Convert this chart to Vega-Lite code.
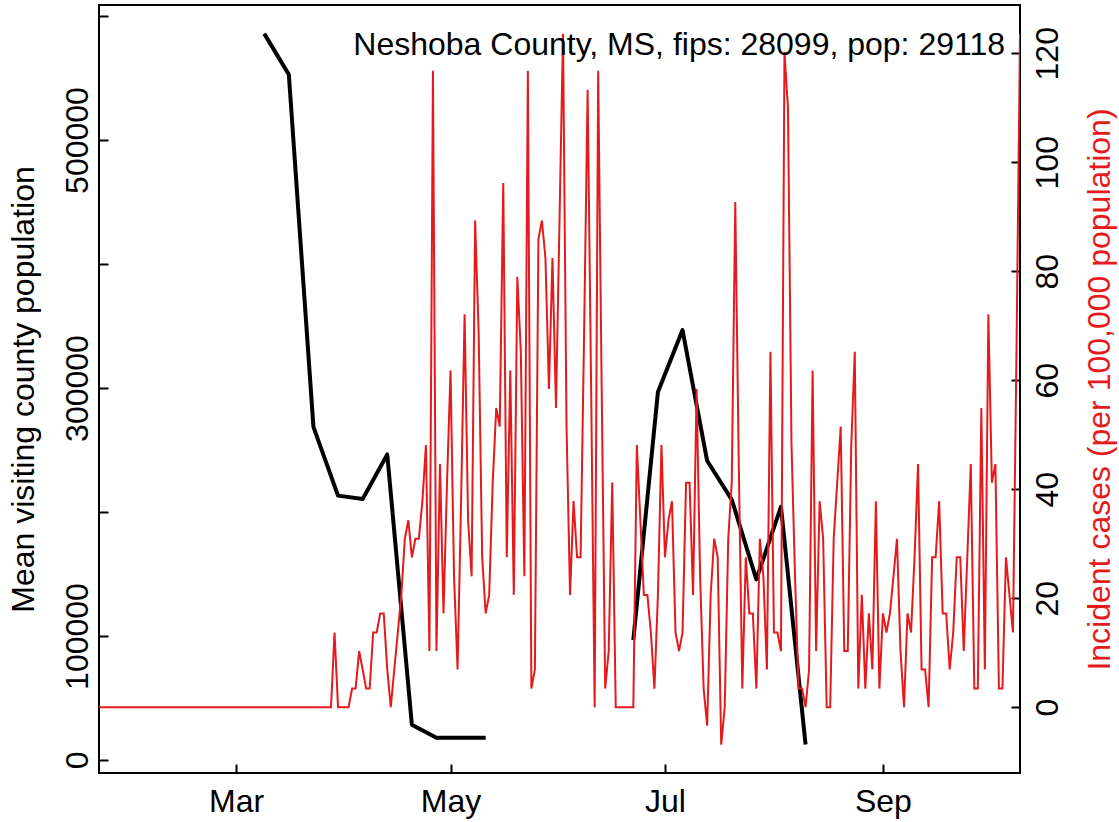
{
  "$schema": "https://vega.github.io/schema/vega-lite/v6.json",
  "width": 921,
  "height": 768,
  "autosize": {"type": "none"},
  "padding": {"left": 99, "top": 5, "right": 99, "bottom": 49},
  "background": "white",
  "config": {
    "font": "Liberation Sans",
    "view": {"stroke": "black", "strokeWidth": 2},
    "axis": {
      "domain": false, "grid": false,
      "labelFont": "Liberation Sans", "labelFontSize": 32, "labelColor": "black",
      "tickColor": "black", "tickWidth": 2, "tickSize": -9,
      "titleFont": "Liberation Sans", "titleFontSize": 32, "titleFontWeight": "normal",
      "labelBound": false, "labelOverlap": false, "labelFlush": false
    }
  },
  "title": {
    "text": "Neshoba County, MS, fips: 28099, pop: 29118",
    "anchor": "end", "frame": "group", "orient": "top", "offset": 0,
    "font": "Liberation Sans", "fontSize": 32, "fontWeight": "normal", "color": "black",
    "baseline": "alphabetic", "dx": -15, "dy": 82
  },
  "datasets": {
    "mobility": [
      {"date": "2020-03-09", "pop": 585800, "seg": 1},
      {"date": "2020-03-16", "pop": 552900, "seg": 1},
      {"date": "2020-03-23", "pop": 268600, "seg": 1},
      {"date": "2020-03-30", "pop": 213200, "seg": 1},
      {"date": "2020-04-06", "pop": 210500, "seg": 1},
      {"date": "2020-04-13", "pop": 246400, "seg": 1},
      {"date": "2020-04-20", "pop": 28500, "seg": 1},
      {"date": "2020-04-27", "pop": 18000, "seg": 1},
      {"date": "2020-05-04", "pop": 18000, "seg": 1},
      {"date": "2020-05-11", "pop": 18000, "seg": 1},
      {"date": "2020-06-22", "pop": 96800, "seg": 2},
      {"date": "2020-06-29", "pop": 296800, "seg": 2},
      {"date": "2020-07-06", "pop": 346700, "seg": 2},
      {"date": "2020-07-13", "pop": 241300, "seg": 2},
      {"date": "2020-07-20", "pop": 210000, "seg": 2},
      {"date": "2020-07-27", "pop": 145600, "seg": 2},
      {"date": "2020-08-03", "pop": 204200, "seg": 2},
      {"date": "2020-08-10", "pop": 12500, "seg": 2}
    ],
    "cases": [
      {"date": "2020-01-22", "v": 0}, {"date": "2020-01-23", "v": 0}, {"date": "2020-01-24", "v": 0}, {"date": "2020-01-25", "v": 0},
      {"date": "2020-01-26", "v": 0}, {"date": "2020-01-27", "v": 0}, {"date": "2020-01-28", "v": 0}, {"date": "2020-01-29", "v": 0},
      {"date": "2020-01-30", "v": 0}, {"date": "2020-01-31", "v": 0},
      {"date": "2020-02-01", "v": 0}, {"date": "2020-02-02", "v": 0}, {"date": "2020-02-03", "v": 0}, {"date": "2020-02-04", "v": 0},
      {"date": "2020-02-05", "v": 0}, {"date": "2020-02-06", "v": 0}, {"date": "2020-02-07", "v": 0}, {"date": "2020-02-08", "v": 0},
      {"date": "2020-02-09", "v": 0}, {"date": "2020-02-10", "v": 0}, {"date": "2020-02-11", "v": 0}, {"date": "2020-02-12", "v": 0},
      {"date": "2020-02-13", "v": 0}, {"date": "2020-02-14", "v": 0}, {"date": "2020-02-15", "v": 0}, {"date": "2020-02-16", "v": 0},
      {"date": "2020-02-17", "v": 0}, {"date": "2020-02-18", "v": 0}, {"date": "2020-02-19", "v": 0}, {"date": "2020-02-20", "v": 0},
      {"date": "2020-02-21", "v": 0}, {"date": "2020-02-22", "v": 0}, {"date": "2020-02-23", "v": 0}, {"date": "2020-02-24", "v": 0},
      {"date": "2020-02-25", "v": 0}, {"date": "2020-02-26", "v": 0}, {"date": "2020-02-27", "v": 0}, {"date": "2020-02-28", "v": 0},
      {"date": "2020-02-29", "v": 0},
      {"date": "2020-03-01", "v": 0}, {"date": "2020-03-02", "v": 0}, {"date": "2020-03-03", "v": 0}, {"date": "2020-03-04", "v": 0},
      {"date": "2020-03-05", "v": 0}, {"date": "2020-03-06", "v": 0}, {"date": "2020-03-07", "v": 0}, {"date": "2020-03-08", "v": 0},
      {"date": "2020-03-09", "v": 0}, {"date": "2020-03-10", "v": 0}, {"date": "2020-03-11", "v": 0}, {"date": "2020-03-12", "v": 0},
      {"date": "2020-03-13", "v": 0}, {"date": "2020-03-14", "v": 0}, {"date": "2020-03-15", "v": 0}, {"date": "2020-03-16", "v": 0},
      {"date": "2020-03-17", "v": 0}, {"date": "2020-03-18", "v": 0}, {"date": "2020-03-19", "v": 0}, {"date": "2020-03-20", "v": 0},
      {"date": "2020-03-21", "v": 0}, {"date": "2020-03-22", "v": 0}, {"date": "2020-03-23", "v": 0}, {"date": "2020-03-24", "v": 0},
      {"date": "2020-03-25", "v": 0}, {"date": "2020-03-26", "v": 0}, {"date": "2020-03-27", "v": 0}, {"date": "2020-03-28", "v": 0},
      {"date": "2020-03-29", "v": 13.7}, {"date": "2020-03-30", "v": 0}, {"date": "2020-03-31", "v": 0},
      {"date": "2020-04-01", "v": 0}, {"date": "2020-04-02", "v": 0}, {"date": "2020-04-03", "v": 3.4}, {"date": "2020-04-04", "v": 3.4},
      {"date": "2020-04-05", "v": 10.3}, {"date": "2020-04-06", "v": 6.9}, {"date": "2020-04-07", "v": 3.4}, {"date": "2020-04-08", "v": 3.4},
      {"date": "2020-04-09", "v": 13.7}, {"date": "2020-04-10", "v": 13.7}, {"date": "2020-04-11", "v": 17.2}, {"date": "2020-04-12", "v": 17.2},
      {"date": "2020-04-13", "v": 6.9}, {"date": "2020-04-14", "v": 0}, {"date": "2020-04-15", "v": 6.9}, {"date": "2020-04-16", "v": 13.7},
      {"date": "2020-04-17", "v": 20.6}, {"date": "2020-04-18", "v": 30.9}, {"date": "2020-04-19", "v": 34.3}, {"date": "2020-04-20", "v": 27.5},
      {"date": "2020-04-21", "v": 30.9}, {"date": "2020-04-22", "v": 30.9}, {"date": "2020-04-23", "v": 37.8}, {"date": "2020-04-24", "v": 48.1},
      {"date": "2020-04-25", "v": 10.3}, {"date": "2020-04-26", "v": 116.8}, {"date": "2020-04-27", "v": 10.3}, {"date": "2020-04-28", "v": 44.6},
      {"date": "2020-04-29", "v": 17.2}, {"date": "2020-04-30", "v": 41.2},
      {"date": "2020-05-01", "v": 61.8}, {"date": "2020-05-02", "v": 24.0}, {"date": "2020-05-03", "v": 6.9}, {"date": "2020-05-04", "v": 37.8},
      {"date": "2020-05-05", "v": 72.1}, {"date": "2020-05-06", "v": 34.3}, {"date": "2020-05-07", "v": 24.0}, {"date": "2020-05-08", "v": 89.3},
      {"date": "2020-05-09", "v": 68.7}, {"date": "2020-05-10", "v": 27.5}, {"date": "2020-05-11", "v": 17.2}, {"date": "2020-05-12", "v": 20.6},
      {"date": "2020-05-13", "v": 41.2}, {"date": "2020-05-14", "v": 54.9}, {"date": "2020-05-15", "v": 51.5}, {"date": "2020-05-16", "v": 96.2},
      {"date": "2020-05-17", "v": 27.5}, {"date": "2020-05-18", "v": 61.8}, {"date": "2020-05-19", "v": 20.6}, {"date": "2020-05-20", "v": 79.0},
      {"date": "2020-05-21", "v": 65.2}, {"date": "2020-05-22", "v": 24.0}, {"date": "2020-05-23", "v": 116.8}, {"date": "2020-05-24", "v": 3.4},
      {"date": "2020-05-25", "v": 6.9}, {"date": "2020-05-26", "v": 85.9}, {"date": "2020-05-27", "v": 89.3}, {"date": "2020-05-28", "v": 82.4},
      {"date": "2020-05-29", "v": 58.4}, {"date": "2020-05-30", "v": 82.4}, {"date": "2020-05-31", "v": 54.9},
      {"date": "2020-06-01", "v": 89.3}, {"date": "2020-06-02", "v": 123.6}, {"date": "2020-06-03", "v": 51.5}, {"date": "2020-06-04", "v": 20.6},
      {"date": "2020-06-05", "v": 37.8}, {"date": "2020-06-06", "v": 27.5}, {"date": "2020-06-07", "v": 27.5}, {"date": "2020-06-08", "v": 68.7},
      {"date": "2020-06-09", "v": 113.3}, {"date": "2020-06-10", "v": 58.4}, {"date": "2020-06-11", "v": 0}, {"date": "2020-06-12", "v": 116.8},
      {"date": "2020-06-13", "v": 58.4}, {"date": "2020-06-14", "v": 3.4}, {"date": "2020-06-15", "v": 10.3}, {"date": "2020-06-16", "v": 41.2},
      {"date": "2020-06-17", "v": 0}, {"date": "2020-06-18", "v": 0}, {"date": "2020-06-19", "v": 0}, {"date": "2020-06-20", "v": 0},
      {"date": "2020-06-21", "v": 0}, {"date": "2020-06-22", "v": 0}, {"date": "2020-06-23", "v": 48.1}, {"date": "2020-06-24", "v": 34.3},
      {"date": "2020-06-25", "v": 20.6}, {"date": "2020-06-26", "v": 20.6}, {"date": "2020-06-27", "v": 13.7}, {"date": "2020-06-28", "v": 3.4},
      {"date": "2020-06-29", "v": 20.6}, {"date": "2020-06-30", "v": 48.1},
      {"date": "2020-07-01", "v": 27.5}, {"date": "2020-07-02", "v": 34.3}, {"date": "2020-07-03", "v": 37.8}, {"date": "2020-07-04", "v": 13.7},
      {"date": "2020-07-05", "v": 10.3}, {"date": "2020-07-06", "v": 13.7}, {"date": "2020-07-07", "v": 41.2}, {"date": "2020-07-08", "v": 41.2},
      {"date": "2020-07-09", "v": 20.6}, {"date": "2020-07-10", "v": 58.4}, {"date": "2020-07-11", "v": 24.0}, {"date": "2020-07-12", "v": 3.4},
      {"date": "2020-07-13", "v": -3.4}, {"date": "2020-07-14", "v": 20.6}, {"date": "2020-07-15", "v": 30.9}, {"date": "2020-07-16", "v": 27.5},
      {"date": "2020-07-17", "v": -6.9}, {"date": "2020-07-18", "v": 0}, {"date": "2020-07-19", "v": 30.9}, {"date": "2020-07-20", "v": 41.2},
      {"date": "2020-07-21", "v": 92.7}, {"date": "2020-07-22", "v": 44.6}, {"date": "2020-07-23", "v": 3.4}, {"date": "2020-07-24", "v": 27.5},
      {"date": "2020-07-25", "v": 17.2}, {"date": "2020-07-26", "v": 17.2}, {"date": "2020-07-27", "v": 3.4}, {"date": "2020-07-28", "v": 30.9},
      {"date": "2020-07-29", "v": 24.0}, {"date": "2020-07-30", "v": 6.9}, {"date": "2020-07-31", "v": 65.2},
      {"date": "2020-08-01", "v": 13.7}, {"date": "2020-08-02", "v": 13.7}, {"date": "2020-08-03", "v": 10.3}, {"date": "2020-08-04", "v": 120.2},
      {"date": "2020-08-05", "v": 109.9}, {"date": "2020-08-06", "v": 48.1}, {"date": "2020-08-07", "v": 24.0}, {"date": "2020-08-08", "v": 3.4},
      {"date": "2020-08-09", "v": 3.4}, {"date": "2020-08-10", "v": 0}, {"date": "2020-08-11", "v": 6.9}, {"date": "2020-08-12", "v": 61.8},
      {"date": "2020-08-13", "v": 10.3}, {"date": "2020-08-14", "v": 37.8}, {"date": "2020-08-15", "v": 30.9}, {"date": "2020-08-16", "v": 0},
      {"date": "2020-08-17", "v": 0}, {"date": "2020-08-18", "v": 30.9}, {"date": "2020-08-19", "v": 41.2}, {"date": "2020-08-20", "v": 51.5},
      {"date": "2020-08-21", "v": 10.3}, {"date": "2020-08-22", "v": 10.3}, {"date": "2020-08-23", "v": 48.1}, {"date": "2020-08-24", "v": 65.2},
      {"date": "2020-08-25", "v": 3.4}, {"date": "2020-08-26", "v": 20.6}, {"date": "2020-08-27", "v": 3.4}, {"date": "2020-08-28", "v": 17.2},
      {"date": "2020-08-29", "v": 6.9}, {"date": "2020-08-30", "v": 37.8}, {"date": "2020-08-31", "v": 3.4},
      {"date": "2020-09-01", "v": 17.2}, {"date": "2020-09-02", "v": 13.7}, {"date": "2020-09-03", "v": 17.2}, {"date": "2020-09-04", "v": 24.0},
      {"date": "2020-09-05", "v": 30.9}, {"date": "2020-09-06", "v": 10.3}, {"date": "2020-09-07", "v": 0}, {"date": "2020-09-08", "v": 17.2},
      {"date": "2020-09-09", "v": 13.7}, {"date": "2020-09-10", "v": 27.5}, {"date": "2020-09-11", "v": 44.6}, {"date": "2020-09-12", "v": 6.9},
      {"date": "2020-09-13", "v": 6.9}, {"date": "2020-09-14", "v": 0}, {"date": "2020-09-15", "v": 27.5}, {"date": "2020-09-16", "v": 27.5},
      {"date": "2020-09-17", "v": 37.8}, {"date": "2020-09-18", "v": 17.2}, {"date": "2020-09-19", "v": 17.2}, {"date": "2020-09-20", "v": 6.9},
      {"date": "2020-09-21", "v": 13.7}, {"date": "2020-09-22", "v": 27.5}, {"date": "2020-09-23", "v": 27.5}, {"date": "2020-09-24", "v": 10.3},
      {"date": "2020-09-25", "v": 27.5}, {"date": "2020-09-26", "v": 44.6}, {"date": "2020-09-27", "v": 3.4}, {"date": "2020-09-28", "v": 3.4},
      {"date": "2020-09-29", "v": 54.9}, {"date": "2020-09-30", "v": 6.9},
      {"date": "2020-10-01", "v": 72.1}, {"date": "2020-10-02", "v": 41.2}, {"date": "2020-10-03", "v": 44.6}, {"date": "2020-10-04", "v": 3.4},
      {"date": "2020-10-05", "v": 3.4}, {"date": "2020-10-06", "v": 27.5}, {"date": "2020-10-07", "v": 20.6}, {"date": "2020-10-08", "v": 13.7},
      {"date": "2020-10-09", "v": 65.2}, {"date": "2020-10-10", "v": 123.6}
    ]
  },
  "layer": [
    {
      "data": {"name": "mobility"},
      "mark": {"type": "line", "color": "black", "strokeWidth": 4, "strokeJoin": "round", "clip": true},
      "encoding": {
        "x": {
          "field": "date", "type": "temporal",
          "scale": {"type": "utc", "domain": [{"year": 2020, "month": 1, "date": 22, "utc": true}, {"year": 2020, "month": 10, "date": 10, "utc": true}]},
          "axis": {
            "title": null, "format": "%b",
            "values": [
              {"year": 2020, "month": 3, "date": 1, "utc": true},
              {"year": 2020, "month": 5, "date": 1, "utc": true},
              {"year": 2020, "month": 7, "date": 1, "utc": true},
              {"year": 2020, "month": 9, "date": 1, "utc": true}
            ],
            "labelAlign": "center", "labelBaseline": "alphabetic", "labelPadding": 47
          }
        },
        "y": {
          "field": "pop", "type": "quantitative",
          "scale": {"domain": [-10500, 608900], "nice": false, "zero": false},
          "axis": {
            "title": "Mean visiting county population", "titleColor": "black",
            "values": [0, 100000, 200000, 300000, 400000, 500000, 600000],
            "format": "d",
            "labelExpr": "indexof([200000, 400000, 600000], datum.value) >= 0 ? '' : datum.label",
            "labelAngle": 270, "labelAlign": "center", "labelBaseline": "alphabetic", "labelPadding": 21,
            "titleAngle": 270, "titleBaseline": "alphabetic", "titleX": -66
          }
        },
        "detail": {"field": "seg", "type": "nominal"}
      }
    },
    {
      "data": {"name": "cases"},
      "mark": {"type": "line", "color": "#E41A1C", "strokeWidth": 2, "clip": true},
      "encoding": {
        "x": {"field": "date", "type": "temporal"},
        "y": {
          "field": "v", "type": "quantitative",
          "scale": {"domain": [-12.09, 128.86], "nice": false, "zero": false},
          "axis": {
            "orient": "right",
            "title": "Incident cases (per 100,000 population)", "titleColor": "#E41A1C",
            "values": [0, 20, 40, 60, 80, 100, 120],
            "labelAngle": 270, "labelAlign": "center", "labelBaseline": "alphabetic", "labelPadding": 46,
            "titleAngle": 270, "titleBaseline": "alphabetic", "titleX": 89
          }
        }
      }
    }
  ],
  "resolve": {"scale": {"y": "independent"}}
}
